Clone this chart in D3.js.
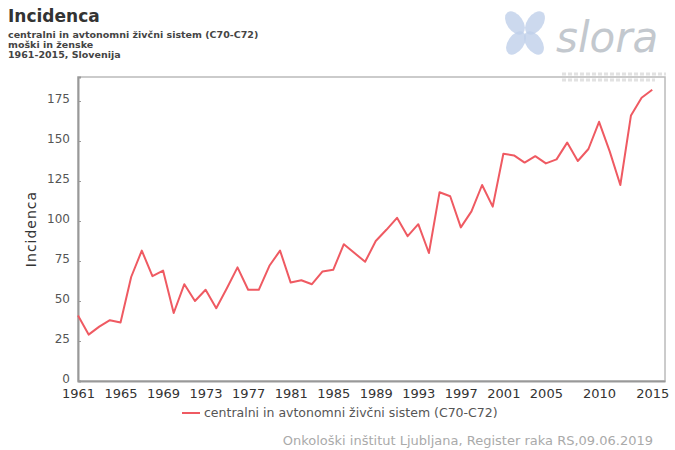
<!DOCTYPE html>
<html>
<head>
<meta charset="utf-8">
<script src="https://cdn.jsdelivr.net/npm/d3@7"></script>
<style>
  body { margin: 0; background: #fff; }
  text { font-family: "DejaVu Sans", sans-serif; }
</style>
</head>
<body>
<div class="chart-container"></div>
<script>
const years = d3.range(1961, 2016);
const incidence = [
  41, 29, 34, 38, 36.5, 65, 81.5, 65.5, 69, 42.5,
  60.5, 50, 57, 45.5, 58, 71, 57, 57, 72, 81.5,
  61.5, 63, 60.5, 68.5, 69.5, 85.5, 80, 74.5, 87.5, 94.5,
  102, 90.5, 98, 80, 118, 115.5, 96, 106, 122.5, 109,
  142, 141, 136.5, 140.5, 136, 138.5, 149, 137.5, 145, 162,
  143.5, 122.5, 166, 177, 182
];
const xTicks = [1961, 1965, 1969, 1973, 1977, 1981, 1985, 1989, 1993, 1997, 2001, 2005, 2010, 2015];
const yTicks = [0, 25, 50, 75, 100, 125, 150, 175];
const seriesName = 'centralni in avtonomni živčni sistem (C70-C72)';

const width = 675, height = 450;
const plotLeft = 78, plotRight = 665, plotTop = 77, plotBottom = 381;

const svg = d3.select('.chart-container').append('svg')
    .attr('width', width).attr('height', height);

// titles
svg.append('text').attr('x', 8).attr('y', 22)
    .style('font-size', '17px').style('font-weight', 'bold').attr('fill', '#333')
    .text('Incidenca');
const subs = [seriesName, 'moški in ženske', '1961-2015, Slovenija'];
svg.selectAll('.sub').data(subs).enter().append('text')
    .attr('x', 8).attr('y', (d, i) => 38 + i * 10)
    .style('font-size', '9.5px').style('font-weight', 'bold').attr('fill', '#444')
    .text(d => d);

// logo
const logo = svg.append('g').attr('transform', 'translate(525,32)');
[[-10, -9, -35], [10, -9, 35], [-9, 11, 35], [9, 11, -35]].forEach(p => {
  logo.append('ellipse').attr('cx', p[0]).attr('cy', p[1]).attr('rx', 8).attr('ry', 13)
      .attr('transform', 'rotate(' + p[2] + ',' + p[0] + ',' + p[1] + ')')
      .attr('fill', '#bfd0ea').attr('opacity', 0.8);
});
svg.append('text').attr('x', 556).attr('y', 52)
    .style('font-size', '42px').style('font-style', 'italic').attr('fill', '#c3c8ce')
    .text('slora');
[74, 80].forEach((yy, i) => {
  svg.append('line').attr('x1', 562).attr('x2', i ? 655 : 666).attr('y1', yy).attr('y2', yy)
      .attr('stroke', '#e2e2e2').attr('stroke-width', 3).attr('stroke-dasharray', '4,2');
});

const x = d3.scaleLinear().domain([1961, 2016.2]).range([plotLeft, plotRight]);
const y = d3.scaleLinear().domain([0, 190]).range([plotBottom, plotTop]);

// frame
svg.append('rect').attr('x', plotLeft).attr('y', plotTop)
    .attr('width', plotRight - plotLeft).attr('height', plotBottom - plotTop)
    .attr('fill', 'none').attr('stroke', '#bbb').attr('stroke-width', 1.5);

// y axis
const yAxis = svg.append('g').attr('transform', 'translate(' + plotLeft + ',0)')
    .call(d3.axisLeft(y).tickValues(yTicks).tickSize(-3).tickPadding(8));
yAxis.select('.domain').attr('stroke', '#999').attr('stroke-width', 2);
yAxis.selectAll('.tick line').attr('stroke', '#999');
yAxis.selectAll('text').style('font-size', '12px').attr('fill', '#555').attr('dy', '0.1em');

// x axis
const xAxis = svg.append('g').attr('transform', 'translate(0,' + plotBottom + ')')
    .call(d3.axisBottom(x).tickValues(xTicks).tickFormat(d3.format('d')).tickSize(0).tickPadding(8));
xAxis.select('.domain').attr('stroke', '#999').attr('stroke-width', 2);
xAxis.selectAll('text').style('font-size', '13px').attr('fill', '#333');

svg.append('text')
    .attr('transform', 'translate(36,' + (plotTop + plotBottom) / 2 + ') rotate(-90)')
    .attr('text-anchor', 'middle')
    .style('font-size', '14px').style('letter-spacing', '1px').attr('fill', '#333')
    .text('Incidenca');

// line
const line = d3.line().x((d, i) => x(years[i])).y(d => y(d));
svg.append('path').datum(incidence)
    .attr('d', line).attr('fill', 'none')
    .attr('stroke', '#ef5a62').attr('stroke-width', 2).attr('stroke-linejoin', 'round');

// legend
svg.append('line').attr('x1', 182).attr('x2', 200).attr('y1', 413).attr('y2', 413)
    .attr('stroke', '#ef5a62').attr('stroke-width', 2);
svg.append('text').attr('x', 204).attr('y', 417)
    .style('font-size', '12.5px').attr('fill', '#555').text(seriesName);

// source
svg.append('text').attr('x', 653).attr('y', 445).attr('text-anchor', 'end')
    .style('font-size', '13px').attr('fill', '#aaa')
    .text('Onkološki inštitut Ljubljana, Register raka RS,09.06.2019');
</script>
</body>
</html>
